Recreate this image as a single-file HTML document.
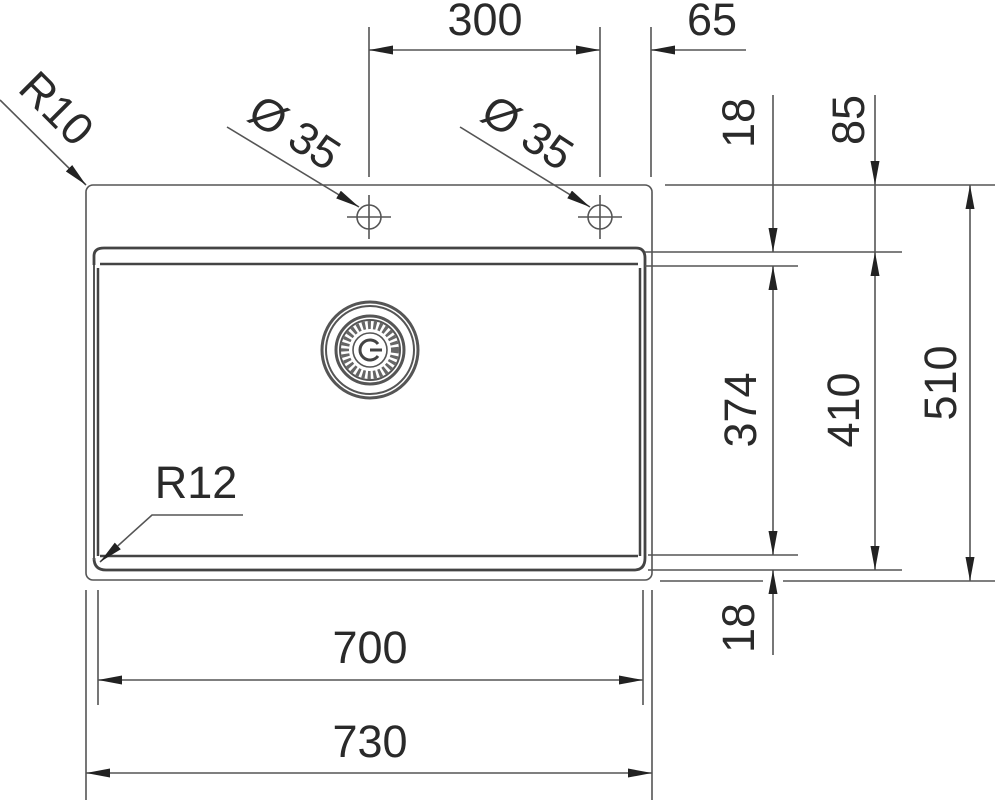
<!DOCTYPE html>
<html><head><meta charset="utf-8"><style>
html,body{margin:0;padding:0;background:#fff;}
svg{display:block}
text{font-family:"Liberation Sans",sans-serif;font-size:45px;fill:#2a2a2a;}
</style></head><body>
<svg width="999" height="800" viewBox="0 0 999 800" xmlns="http://www.w3.org/2000/svg">
<defs>
<marker id="a" viewBox="0 0 24 9" refX="24" refY="4.5" markerWidth="24" markerHeight="9" markerUnits="userSpaceOnUse" orient="auto-start-reverse"><path d="M0,0 L24,4.5 L0,9 Z" fill="#222"/></marker>
</defs>
<g fill="none" stroke="#555" stroke-width="1.6">
<rect x="86" y="185" width="566" height="395" rx="7"/>
<path d="M94,265 L94,256 Q94,248 104,248 L636,248 Q645,248 645,258 L645,262" stroke="#444" stroke-width="2.8"/>
<path d="M100,264 L638,264" stroke="#444" stroke-width="2.5"/>
<path d="M94,558 Q94,570 106,570 L634,570 Q645,570 645,558 L645,262" stroke="#444" stroke-width="2.8"/>
<path d="M98,268 L98,556" stroke="#444" stroke-width="2.5"/>
<path d="M640,268 L640,556" stroke="#444" stroke-width="2.5"/>
<path d="M100,556 L638,556" stroke="#444" stroke-width="2.5"/>
<path d="M94,265 L94,560" stroke-width="2"/>
<circle cx="369" cy="217" r="12"/>
<path d="M347,217 H391 M369,195 V239"/>
<circle cx="600" cy="217" r="12"/>
<path d="M578,217 H622 M600,195 V239"/>
<circle cx="370" cy="350" r="48" stroke-width="3"/>
<circle cx="370" cy="350" r="44" stroke-width="2"/>
<circle cx="370" cy="350" r="34" stroke-width="3"/>
<circle cx="370" cy="350" r="30" stroke-width="2"/>
<circle cx="370" cy="350" r="25" stroke-dasharray="3 2.5" stroke-width="8" stroke="#666"/>
<circle cx="370" cy="350" r="17"/>
<path d="M378,344 A10,10 0 1 0 378,356 M370,350 H382" stroke-width="3" stroke="#444"/>
<path d="M369,27 V177 M600,27 V177 M651,27 V177"/>
<path d="M369,50 H600" marker-start="url(#a)" marker-end="url(#a)"/>
<path d="M746,50 H651" marker-end="url(#a)"/>
<path d="M0,100 L86,185" marker-end="url(#a)"/>
<path d="M227,127 L359,207" marker-end="url(#a)"/>
<path d="M460,127 L590,207" marker-end="url(#a)"/>
<path d="M243,515 H152 L100,562" marker-end="url(#a)"/>
<path d="M665,185 H995 M645,252 H902 M645,266 H798 M648,555 H798 M648,570 H902 M660,581 H763 M783,581 H995"/>
<path d="M773,95 V252" marker-end="url(#a)"/>
<path d="M773,266 V555" marker-start="url(#a)" marker-end="url(#a)"/>
<path d="M773,655 V570" marker-end="url(#a)"/>
<path d="M875,95 V185" marker-end="url(#a)"/>
<path d="M875,185 V252"/>
<path d="M875,252 V570" marker-start="url(#a)" marker-end="url(#a)"/>
<path d="M970,185 V581" marker-start="url(#a)" marker-end="url(#a)"/>
<path d="M98,590 V705 M643,590 V705 M86,590 V800 M652,590 V800"/>
<path d="M98,680 H643" marker-start="url(#a)" marker-end="url(#a)"/>
<path d="M86,773 H652" marker-start="url(#a)" marker-end="url(#a)"/>
</g>
<text x="485" y="35" text-anchor="middle">300</text>
<text x="712" y="35" text-anchor="middle">65</text>
<text x="370" y="663" text-anchor="middle">700</text>
<text x="370" y="757" text-anchor="middle">730</text>
<text x="196" y="498" text-anchor="middle">R12</text>
<text x="57" y="124" text-anchor="middle" transform="rotate(45 57 108)">R10</text>
<text x="295" y="148" text-anchor="middle" transform="rotate(33 295 132)">Ø 35</text>
<text x="528" y="148" text-anchor="middle" transform="rotate(33 528 132)">Ø 35</text>
<g font-size="44">
<text x="738" y="139" text-anchor="middle" transform="rotate(-90 738 123)">18</text>
<text x="848" y="136" text-anchor="middle" transform="rotate(-90 848 120)">85</text>
<text x="740" y="426" text-anchor="middle" transform="rotate(-90 740 410)">374</text>
<text x="843" y="426" text-anchor="middle" transform="rotate(-90 843 410)">410</text>
<text x="940" y="399" text-anchor="middle" transform="rotate(-90 940 383)">510</text>
<text x="738" y="644" text-anchor="middle" transform="rotate(-90 738 628)">18</text>
</g>
</svg>
</body></html>
